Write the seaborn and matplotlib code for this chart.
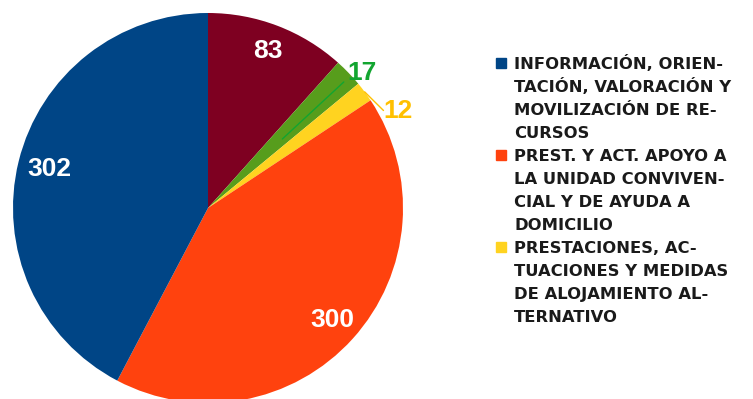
import numpy as np
import matplotlib
matplotlib.use("Agg")
import matplotlib.pyplot as plt
import seaborn as sns

# Service counts, drawn clockwise from 12 o'clock
values = [83, 17, 12, 300, 302]
colors = ["#7E0021", "#579D1C", "#FFD320", "#FF420E", "#004586"]
value_colors = ["white", "#12A530", "#FFC000", "white", "white"]

legend_labels = [
    ["INFORMACIÓN, ORIEN-", "TACIÓN, VALORACIÓN Y", "MOVILIZACIÓN DE RE-", "CURSOS"],
    ["PREST. Y ACT. APOYO A", "LA UNIDAD CONVIVEN-", "CIAL Y DE AYUDA A", "DOMICILIO"],
    ["PRESTACIONES, AC-", "TUACIONES Y MEDIDAS", "DE ALOJAMIENTO AL-", "TERNATIVO"],
]
legend_colors = ["#004586", "#FF420E", "#FFD320"]

sns.set_theme(style="white")
plt.rcParams["font.family"] = ["Liberation Sans", "DejaVu Sans"]

W, H = 753, 399
fig = plt.figure(figsize=(W / 100, H / 100), dpi=100)
fig.patch.set_facecolor("white")

cx, cy, R = 208, 208, 195
ax = fig.add_axes([(cx - R) / W, (H - cy - R) / H, 2 * R / W, 2 * R / H])

wedges, _ = ax.pie(values, colors=colors, startangle=90, counterclock=False,
                   radius=1, wedgeprops=dict(linewidth=0))
ax.set_xlim(-1, 1)
ax.set_ylim(-1, 1)
ax.axis("off")

total = sum(values)
bounds = 90 - 360 * np.cumsum([0] + values) / total
mids = (bounds[:-1] + bounds[1:]) / 2

# inside labels
label_r = {0: 0.86, 3: 0.86, 4: 0.84}
for i, r in label_r.items():
    a = np.deg2rad(mids[i])
    ax.text(r * np.cos(a), r * np.sin(a), str(values[i]),
            color=value_colors[i], ha="center", va="center", fontsize=19, fontweight="bold")

# small slices labelled outside with leader lines
a1 = np.deg2rad(mids[1] - 1)
ax.plot([0.52 * np.cos(a1), 0.95 * np.cos(a1)], [0.52 * np.sin(a1), 0.95 * np.sin(a1)],
        color="#12A530", lw=1.0)
ax.text(0.79, 0.69, str(values[1]), color=value_colors[1], ha="center", va="center",
        fontsize=19, fontweight="bold", clip_on=False)

a2 = np.deg2rad(mids[2])
ax.plot([np.cos(a2), 0.90], [np.sin(a2), 0.50], color="#FFC000", lw=1.0, clip_on=False)
ax.text(0.975, 0.495, str(values[2]), color=value_colors[2], ha="center", va="center",
        fontsize=19, fontweight="bold", clip_on=False)

# legend block
base0, step = 69, 23.0
text_x = 514
k = 0
for g, grp in enumerate(legend_labels):
    top = base0 + k * step - 11
    fig.patches.append(plt.Rectangle((496 / W, 1 - (top + 10) / H), 10 / W, 10 / H,
                                     transform=fig.transFigure, color=legend_colors[g]))
    for ln in grp:
        fig.text(text_x / W, 1 - (base0 + k * step) / H, ln, ha="left", va="baseline",
                 fontsize=11.8, fontweight="bold", color="#1A1A1A",
                 family=["DejaVu Sans"])
        k += 1

fig.savefig("out.png", dpi=100, facecolor="white")
